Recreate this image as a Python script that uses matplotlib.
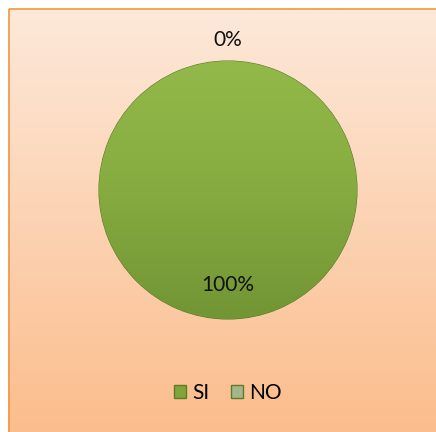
import numpy as np
import matplotlib.pyplot as plt
from matplotlib.patches import Rectangle, Patch
from matplotlib.colors import LinearSegmentedColormap

labels = ["SI", "NO"]
values = [100, 0]
colors = ["#80a43a", "#a3b88a"]

fig = plt.figure(figsize=(4.36, 4.32), dpi=100)

# background gradient + orange frame
bg = fig.add_axes([0, 0, 1, 1])
bg.set_axis_off()
bg.set_xlim(0, 436)
bg.set_ylim(432, 0)
grad = np.linspace(0, 1, 256).reshape(-1, 1)
bg_cmap = LinearSegmentedColormap.from_list("bg", ["#fde9da", "#fbbd8c"])
bg.imshow(grad, cmap=bg_cmap, extent=[8, 436, 432, 8], aspect="auto")
bg.add_patch(Rectangle((8.5, 8.5), 430, 430, fill=False, edgecolor="#f79646", linewidth=1.2))

ax = fig.add_axes([99 / 436, 113 / 432, 258 / 436, 258 / 432])
wedges, _ = ax.pie(values, colors=colors, startangle=90, counterclock=False, radius=1,
                   wedgeprops=dict(edgecolor="#5e7a2a", linewidth=0.8))
ax.set_xlim(-1, 1)
ax.set_ylim(-1, 1)
ax.set_aspect("equal")

# shading on the green slice
pie_cmap = LinearSegmentedColormap.from_list("pie", ["#93b94a", "#86ab40", "#729535"])
img = ax.imshow(grad, cmap=pie_cmap, extent=[-1, 1, -1, 1], aspect="auto", zorder=2)
img.set_clip_path(wedges[0])

# percentage labels
total = sum(values)
for w, v in zip(wedges, values):
    ang = np.deg2rad((w.theta1 + w.theta2) / 2)
    d = 0.74 if v > 0 else 1.16
    ax.text(d * np.cos(ang), d * np.sin(ang), f"{v / total * 100:.0f}%",
            ha="center", va="center", fontsize=15, family="Lato", color="#111111",
            zorder=5, clip_on=False)

handles = [Patch(facecolor=c, edgecolor="#5e7a2a", label=l) for c, l in zip(colors, labels)]
fig.legend(handles=handles, loc="center", bbox_to_anchor=(228 / 436, 1 - 393 / 432), ncol=2,
           frameon=False, prop=dict(family="Lato", size=15), handlelength=0.6,
           handleheight=0.6, handletextpad=0.3, columnspacing=1.0)

fig.savefig("out.png", dpi=100)
